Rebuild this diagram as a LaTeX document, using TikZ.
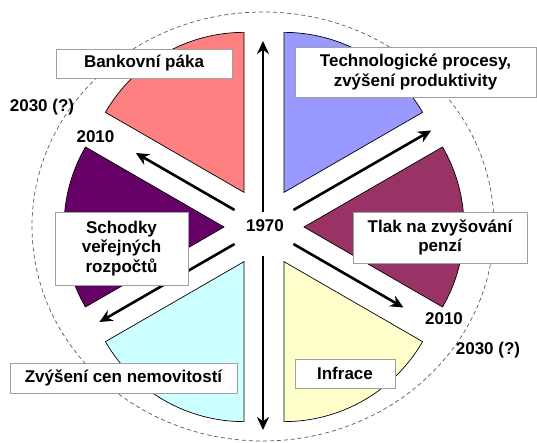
\documentclass[tikz,border=0pt]{standalone}
\usepackage{fontspec}
\setmainfont{Liberation Sans}
\usetikzlibrary{arrows.meta}
\definecolor{cblue}{HTML}{9999FF}
\definecolor{cpink}{HTML}{FF8080}
\definecolor{cpurple}{HTML}{660066}
\definecolor{ccyan}{HTML}{CCFFFF}
\definecolor{cyellow}{HTML}{FFFFCC}
\definecolor{cmaroon}{HTML}{993366}
\definecolor{boxgray}{HTML}{A0A0A0}
\begin{document}
\begin{tikzpicture}[x=1pt,y=1pt,
  wedge/.style={draw=black, line width=0.7pt},
  infobox/.style={draw=boxgray, fill=white, line width=0.9pt, inner sep=0pt, align=center,
    font=\fontsize{17}{19.5}\selectfont\bfseries},
  yearlbl/.style={inner sep=0pt, font=\fontsize{17}{19.5}\selectfont\bfseries},
  timearrow/.style={line width=2.6pt, -{Stealth[length=13pt,width=12pt]}}]
\useasboundingbox (-264,-216) rectangle (273,227);
% dashed ellipse
\draw[dash pattern=on 4pt off 3pt, line width=0.7pt, gray!70!black]
  (-1,0.5) ellipse [x radius=231pt, y radius=214.5pt];
% wedges
\foreach \a/\c in {30/cblue, 90/cpink, 150/cpurple, 210/ccyan, 270/cyellow, 330/cmaroon}{
  \pgfmathsetmacro{\m}{\a+30}
  \pgfmathsetmacro{\e}{\a+60}
  \draw[wedge, fill=\c] (\m:40pt) -- +(\a:160pt) arc[start angle=\a, end angle=\e, radius=160pt] -- cycle;
}
% arrows
\coordinate (upT) at (-1,15);
\coordinate (upH) at (-1,186);
\coordinate (dnT) at (-1,-29);
\coordinate (dnH) at (-1,-203);
\coordinate (ulT) at (150:34pt);
\coordinate (ulH) at (150:148pt);
\coordinate (urT) at (30:34pt);
\coordinate (urH) at (30:193pt);
\coordinate (llT) at (210:34pt);
\coordinate (llH) at (210:190pt);
\coordinate (lrT) at (330:34pt);
\coordinate (lrH) at (330:161pt);
\draw[timearrow] (upT) -- (upH);
\draw[timearrow] (dnT) -- (dnH);
\draw[timearrow] (ulT) -- (ulH);
\draw[timearrow] (urT) -- (urH);
\draw[timearrow] (llT) -- (llH);
\draw[timearrow] (lrT) -- (lrH);
% year labels
\node[yearlbl] (y1970) at (1,1) {1970};
\node[yearlbl] (y2030l) at (-222,120) {2030 (?)};
\node[yearlbl] (y2010l) at (-168.5,90) {2010};
\node[yearlbl] (y2010r) at (180,-92) {2010};
\node[yearlbl] (y2030r) at (224,-123) {2030 (?)};
% boxes
\node[infobox, minimum width=176pt, minimum height=29pt] (bank) at (-120,163.5) {Bankovní páka};
\node[infobox, minimum width=241pt, minimum height=50pt] (tech) at (151.5,155) {Technologické procesy,\\zvýšení produktivity};
\node[infobox, minimum width=133pt, minimum height=73pt] (schod) at (-142.5,-21.5) {Schodky\\veřejných\\rozpočtů};
\node[infobox, minimum width=174pt, minimum height=51pt] (tlak) at (176,-10.5) {Tlak na zvyšování\\penzí};
\node[infobox, minimum width=227pt, minimum height=30pt] (nemo) at (-140.5,-151) {Zvýšení cen nemovitostí};
\node[infobox, minimum width=100pt, minimum height=29pt] (infr) at (81,-146.5) {Infrace};
\end{tikzpicture}
\end{document}
